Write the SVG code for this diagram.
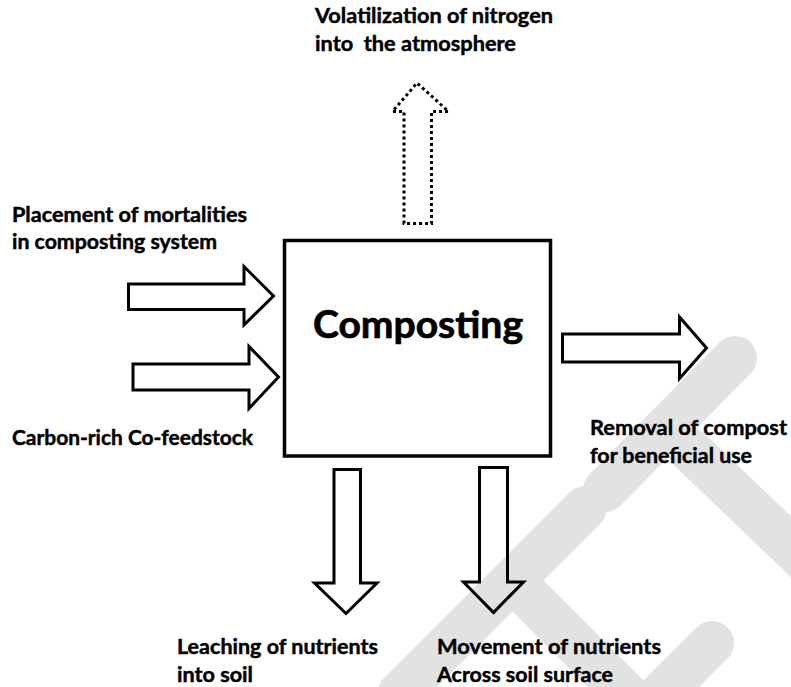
<svg xmlns="http://www.w3.org/2000/svg" width="791" height="687" viewBox="0 0 791 687">
<style>
.wm{stroke:#e2e2e2;stroke-width:44;stroke-linecap:round;fill:none}
.arr{fill:none;stroke:#000;stroke-width:3;stroke-linejoin:miter}
.dot{fill:none;stroke:#000;stroke-width:3;stroke-dasharray:3 3}
.lbl{font-family:Lato,"Open Sans","Liberation Sans",sans-serif;font-weight:bold;font-size:21px;fill:#000;stroke:#000;stroke-width:0.45;white-space:pre}
.big{font-family:Lato,"Open Sans","Liberation Sans",sans-serif;font-weight:bold;font-size:38px;fill:#000;stroke:#000;stroke-width:0.7}
</style>
<rect width="791" height="687" fill="#fff"/>
<g id="watermark">
<line class="wm" x1="735" y1="358" x2="605" y2="490"/>
<line class="wm" x1="690" y1="450" x2="810" y2="565"/>
<line class="wm" x1="585" y1="508" x2="400" y2="693"/>
<line class="wm" x1="522" y1="590" x2="640" y2="708"/>
<line class="wm" x1="712" y1="643" x2="650" y2="705"/>
</g>
<g id="composting">
<rect x="284.5" y="240.5" width="266" height="215.5" fill="none" stroke="#000" stroke-width="3.5"/>
<text class="big" x="418" y="338" text-anchor="middle" textLength="210" lengthAdjust="spacingAndGlyphs">Composting</text>
</g>
<g id="connectors">
<polygon id="arrow-mortalities" class="arr" points="128.5,284 244,284 244,266.5 273.5,296 244,325 244,309.5 128.5,309.5"/>
<polygon id="arrow-carbon" class="arr" points="133,364 249,364 249,346.5 278.5,377 249,408.5 249,390 133,390"/>
<polygon id="arrow-removal" class="arr" points="562.5,334 679.5,334 679.5,317 706.5,348 679.5,378.5 679.5,362 562.5,362"/>
<polygon id="arrow-volatilization" class="dot" points="404,223.5 404,111.5 392.5,111.5 417,83 448.5,111.5 431.5,111.5 431.5,223.5"/>
<polygon id="arrow-leaching" class="arr" points="334,469.5 360.5,469.5 360.5,583 377,583 346,613.5 314.5,583 334,583"/>
<polygon id="arrow-movement" class="arr" points="479.5,467.5 507.5,467.5 507.5,582 523.5,582 493.5,612.5 463.5,582 479.5,582"/>
</g>
<g id="label-volatilization">
<text class="lbl" x="315" y="23" textLength="238" lengthAdjust="spacingAndGlyphs">Volatilization of nitrogen</text>
<text class="lbl" x="315" y="51" textLength="201" lengthAdjust="spacingAndGlyphs">into  the atmosphere</text>
</g>
<g id="label-mortalities">
<text class="lbl" x="12" y="222" textLength="235" lengthAdjust="spacingAndGlyphs">Placement of mortalities</text>
<text class="lbl" x="12" y="249" textLength="205" lengthAdjust="spacingAndGlyphs">in composting system</text>
</g>
<g id="label-carbon">
<text class="lbl" x="12" y="445" textLength="241" lengthAdjust="spacingAndGlyphs">Carbon-rich Co-feedstock</text>
</g>
<g id="label-removal">
<text class="lbl" x="590" y="435" textLength="197" lengthAdjust="spacingAndGlyphs">Removal of compost</text>
<text class="lbl" x="590" y="463" textLength="162" lengthAdjust="spacingAndGlyphs">for beneficial use</text>
</g>
<g id="label-leaching">
<text class="lbl" x="177" y="654" textLength="201" lengthAdjust="spacingAndGlyphs">Leaching of nutrients</text>
<text class="lbl" x="177" y="682" textLength="76" lengthAdjust="spacingAndGlyphs">into soil</text>
</g>
<g id="label-movement">
<text class="lbl" x="437" y="654" textLength="224" lengthAdjust="spacingAndGlyphs">Movement of nutrients</text>
<text class="lbl" x="437" y="682" textLength="176" lengthAdjust="spacingAndGlyphs">Across soil surface</text>
</g>
</svg>
